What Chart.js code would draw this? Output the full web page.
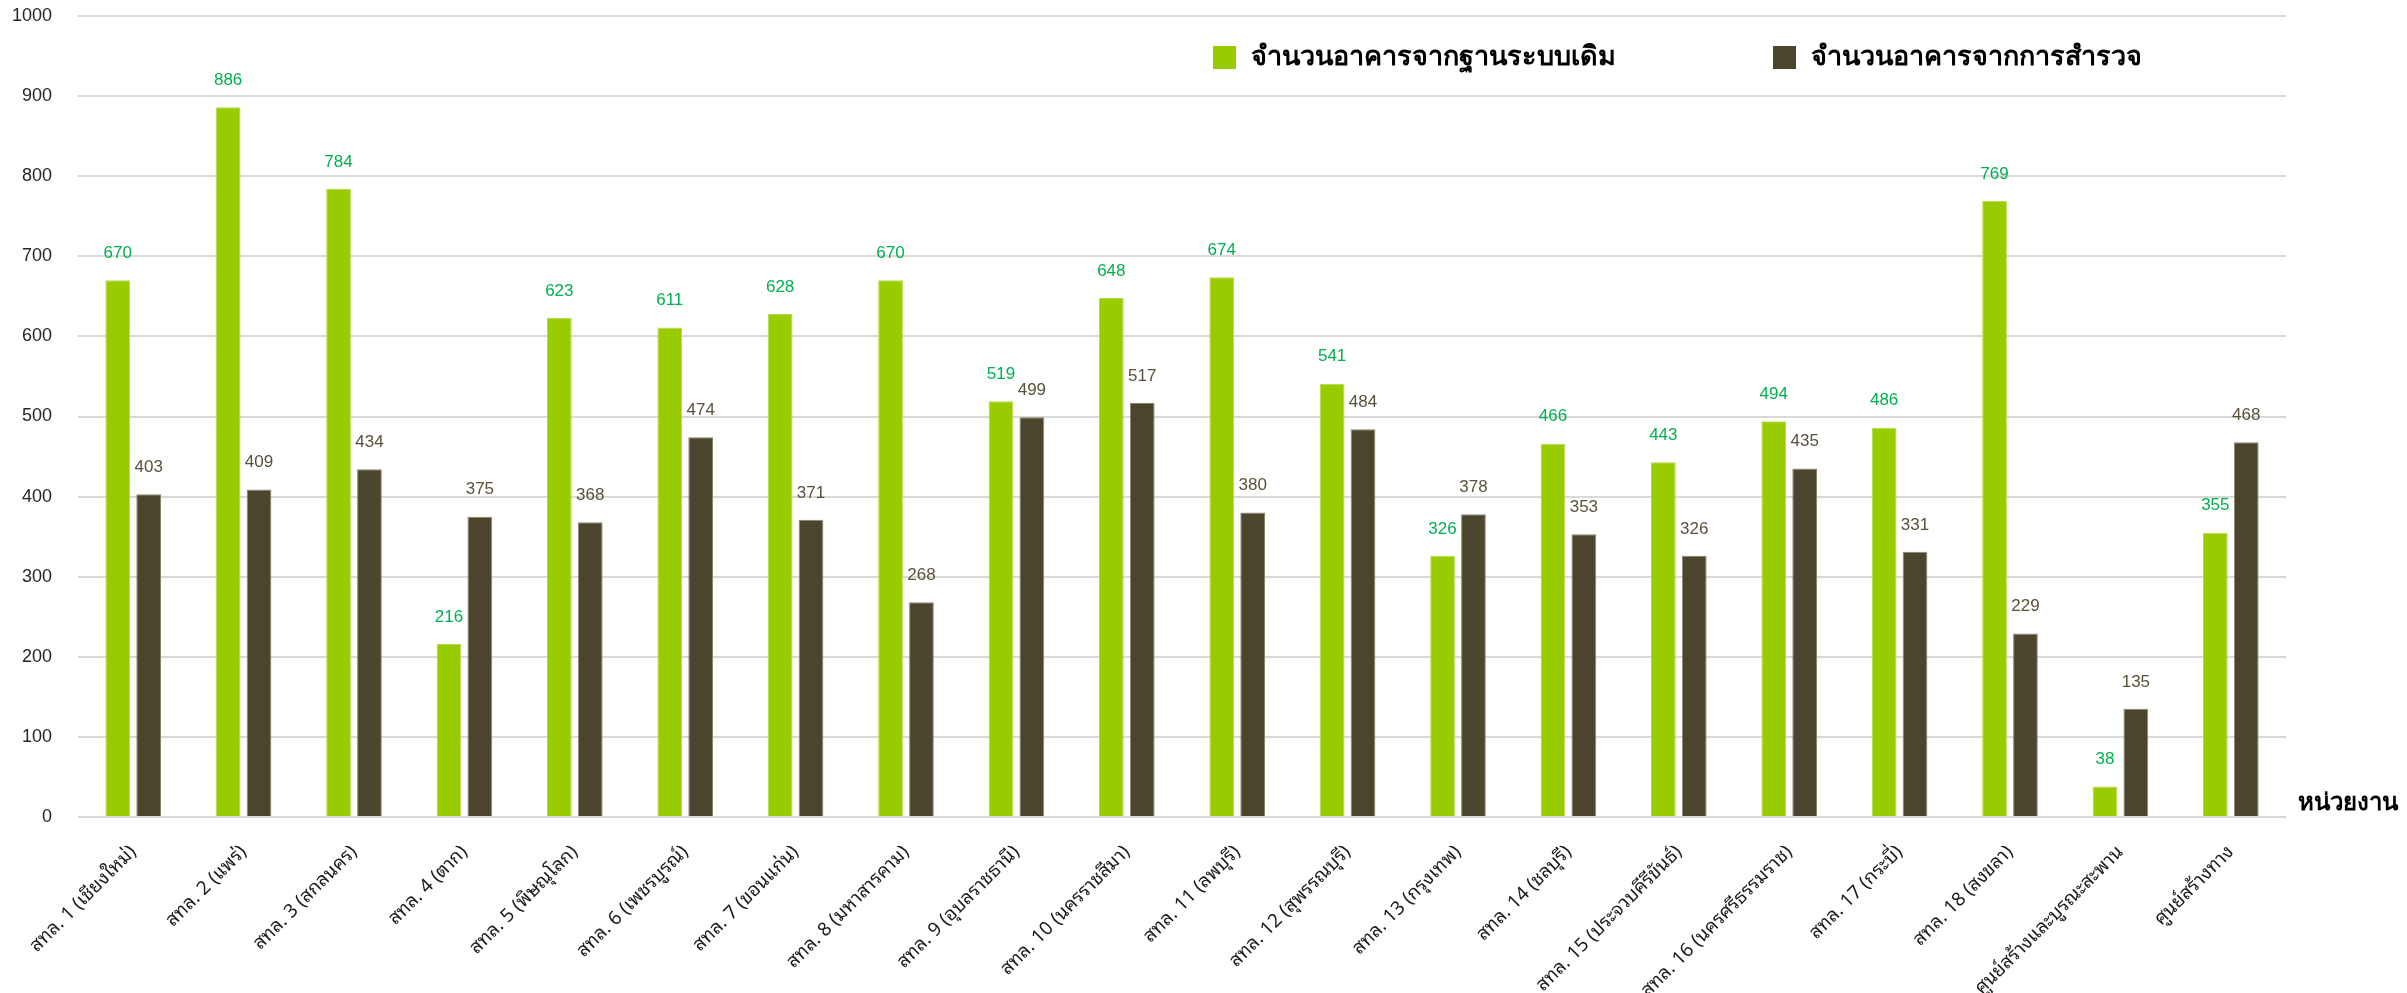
<!DOCTYPE html>
<html lang="th">

<head>
    <meta charset="UTF-8">
    <title>จำนวนอาคาร</title>
    <script src="https://cdn.jsdelivr.net/npm/chart.js"></script>
    <style>
        body {
            margin: 0;
            background-color: #fff;
        }

        .chart-box {
            position: relative;
            width: 2407px;
            height: 993px;
        }
    </style>
</head>

<body>
    <div class="chart-box">
        <canvas id="buildingChart"></canvas>
    </div>

    <script>
        const units = [
            'สทล. 1 (เชียงใหม่)', 'สทล. 2 (แพร่)', 'สทล. 3 (สกลนคร)', 'สทล. 4 (ตาก)',
            'สทล. 5 (พิษณุโลก)', 'สทล. 6 (เพชรบูรณ์)', 'สทล. 7 (ขอนแก่น)', 'สทล. 8 (มหาสารคาม)',
            'สทล. 9 (อุบลราชธานี)', 'สทล. 10 (นครราชสีมา)', 'สทล. 11 (ลพบุรี)', 'สทล. 12 (สุพรรณบุรี)',
            'สทล. 13 (กรุงเทพ)', 'สทล. 14 (ชลบุรี)', 'สทล. 15 (ประจวบคีรีขันธ์)', 'สทล. 16 (นครศรีธรรมราช)',
            'สทล. 17 (กระบี่)', 'สทล. 18 (สงขลา)', 'ศูนย์สร้างและบูรณะสะพาน', 'ศูนย์สร้างทาง'
        ];
        const baseCounts = [670, 886, 784, 216, 623, 611, 628, 670, 519, 648, 674, 541, 326, 466, 443, 494, 486, 769, 38, 355];
        const surveyCounts = [403, 409, 434, 375, 368, 474, 371, 268, 499, 517, 380, 484, 378, 353, 326, 435, 331, 229, 135, 468];
        const seriesNames = ['จำนวนอาคารจากฐานระบบเดิม', 'จำนวนอาคารจากการสำรวจ'];
        const yTicks = [0, 100, 200, 300, 400, 500, 600, 700, 800, 900, 1000];
        const axisName = 'หน่วยงาน';

        const barColors = ['#99CC00', '#4B452E'];
        const labelColors = ['#00B050', '#595139'];
        const thaiFont = '"Noto Sans Thai Looped", Loma, Garuda, "Noto Sans", "Liberation Sans", sans-serif';

        // numbers above each bar
        const valueLabels = {
            id: 'valueLabels',
            afterDatasetsDraw(chart) {
                const ctx = chart.ctx;
                chart.data.datasets.forEach((ds, i) => {
                    chart.getDatasetMeta(i).data.forEach((bar, j) => {
                        ctx.save();
                        ctx.font = '17px "Liberation Sans", Arial, sans-serif';
                        ctx.fillStyle = labelColors[i];
                        ctx.textAlign = 'center';
                        ctx.textBaseline = 'middle';
                        ctx.fillText(ds.data[j], bar.x, bar.y - 27);
                        ctx.restore();
                    });
                });
            }
        };

        // legend inside the plot + unit name at the right of the axis
        const extras = {
            id: 'extras',
            afterDraw(chart) {
                const ctx = chart.ctx;
                const area = chart.chartArea;
                const legendX = [1213, 1773];
                ctx.save();
                ctx.font = 'bold 27px "Noto Sans", "Liberation Sans", sans-serif';
                ctx.textBaseline = 'middle';
                ctx.textAlign = 'left';
                seriesNames.forEach((name, i) => {
                    ctx.fillStyle = barColors[i];
                    ctx.fillRect(legendX[i], 46, 23, 23);
                    ctx.fillStyle = '#000';
                    ctx.fillText(name, legendX[i] + 38, 57);
                });
                ctx.font = 'bold 24px "Noto Sans", "Liberation Sans", sans-serif';
                ctx.fillText(axisName, area.right + 12, area.bottom - 14);
                ctx.restore();
            }
        };

        const ctx1 = document.getElementById('buildingChart').getContext('2d');
        const buildingChart = new Chart(ctx1, {
            type: 'bar',
            data: {
                labels: units,
                datasets: [{
                    label: seriesNames[0],
                    data: baseCounts,
                    backgroundColor: barColors[0],
                    borderColor: '#B5DB4A',
                    borderWidth: 1,
                    categoryPercentage: 0.56,
                    barPercentage: 0.8
                }, {
                    label: seriesNames[1],
                    data: surveyCounts,
                    backgroundColor: barColors[1],
                    borderColor: '#8A846E',
                    borderWidth: 1,
                    categoryPercentage: 0.56,
                    barPercentage: 0.8
                }]
            },
            options: {
                responsive: true,
                maintainAspectRatio: false,
                animation: false,
                layout: {
                    padding: { top: 16, right: 121, bottom: 0, left: 0 }
                },
                plugins: {
                    legend: { display: false },
                    tooltip: { enabled: false }
                },
                scales: {
                    x: {
                        grid: { display: false },
                        border: { display: false },
                        ticks: {
                            minRotation: 45,
                            maxRotation: 45,
                            padding: 16,
                            color: '#1a1a1a',
                            font: { family: thaiFont, size: 19 }
                        },
                        afterFit(scale) {
                            scale.height = 176;
                            scale.paddingTop = 0;
                        }
                    },
                    y: {
                        min: 0,
                        max: 1000,
                        afterBuildTicks(scale) {
                            scale.ticks = yTicks.map(v => ({ value: v }));
                        },
                        grid: { color: '#D9D9D9', lineWidth: 2, drawTicks: false },
                        border: { display: false },
                        ticks: {
                            padding: 26,
                            color: '#262626',
                            font: { family: '"Liberation Sans", Arial, sans-serif', size: 18 },
                            callback: v => String(v)
                        },
                        afterFit(scale) {
                            scale.width = 78;
                            scale.paddingTop = 0;
                        }
                    }
                }
            },
            plugins: [valueLabels, extras]
        });
    </script>
</body>

</html>
